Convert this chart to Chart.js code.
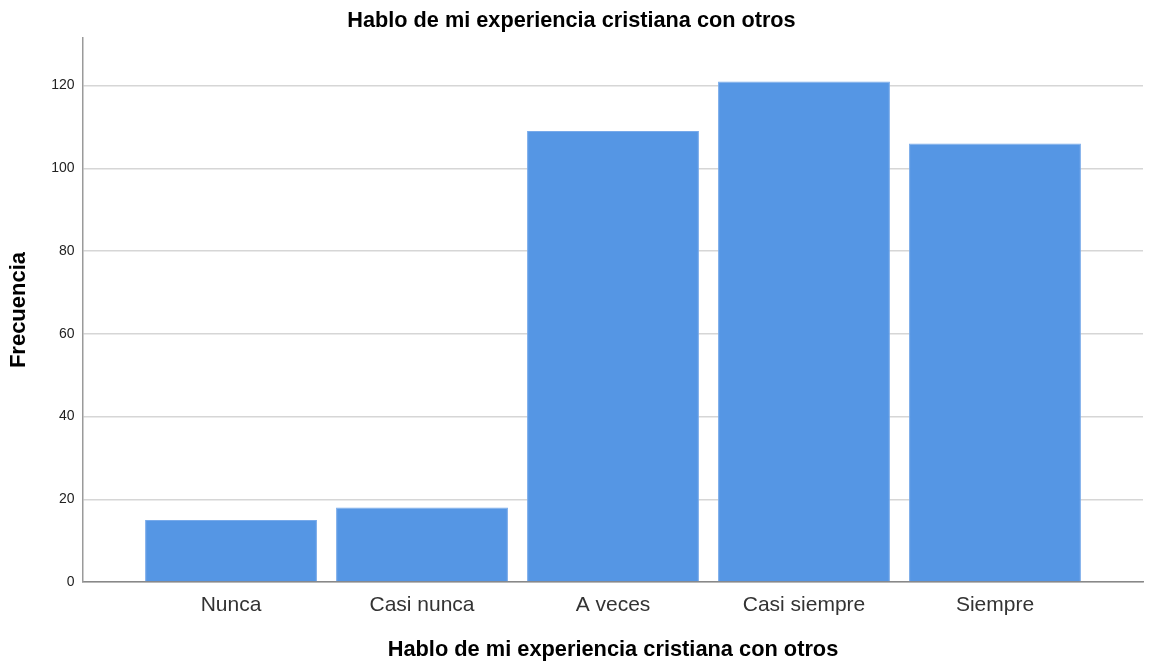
<!DOCTYPE html>
<html>
<head>
<meta charset="utf-8">
<script src="https://cdn.jsdelivr.net/npm/chart.js@4/dist/chart.umd.min.js"></script>
<style>
  html, body { margin: 0; padding: 0; background: #ffffff; }
  #wrap { width: 1149px; height: 663px; position: relative; }
</style>
</head>
<body>
<div id="wrap"><canvas id="c" width="1149" height="663"></canvas></div>
<script>
const chartTitle = "Hablo de mi experiencia cristiana con otros";
const xTitle = "Hablo de mi experiencia cristiana con otros";
const yTitle = "Frecuencia";
const categories = ["Nunca", "Casi nunca", "A veces", "Casi siempre", "Siempre"];
const frecuencias = [15, 18, 109, 121, 106];
const yTickValues = [0, 20, 40, 60, 80, 100, 120];

const FONT = "'Liberation Sans', Arial, sans-serif";

new Chart(document.getElementById('c'), {
  type: 'bar',
  data: {
    datasets: [{
      label: yTitle,
      data: frecuencias.map((v, i) => ({ x: i, y: v })),
      backgroundColor: '#5596e4',
      borderColor: '#78aaea',
      borderWidth: 1,
      barPercentage: 0.9,
      categoryPercentage: 1.0
    }]
  },
  options: {
    responsive: false,
    animation: false,
    layout: { padding: { left: 0, right: 6, top: 0, bottom: 0 } },
    plugins: {
      legend: { display: false },
      tooltip: { enabled: false },
      title: {
        display: true,
        text: chartTitle,
        color: '#000000',
        font: { family: FONT, size: 21.7, weight: 'bold' },
        padding: { top: 8.4, bottom: 3.6 }
      }
    },
    scales: {
      x: {
        type: 'linear',
        offset: false,
        min: -0.775,
        max: 4.775,
        grid: { display: false, drawTicks: false },
        border: { display: true, color: '#888888', width: 1.5 },
        afterBuildTicks: (axis) => { axis.ticks = categories.map((_, i) => ({ value: i })); },
        afterFit: (axis) => { axis.height = 81; },
        ticks: {
          autoSkip: false,
          maxRotation: 0,
          padding: 10.5,
          color: '#333333',
          font: { family: FONT, size: 21 },
          callback: (v) => categories[v]
        },
        title: {
          display: true,
          text: xTitle,
          color: '#000000',
          font: { family: FONT, size: 21.8, weight: 'bold' },
          padding: { top: 10, bottom: 0 }
        }
      },
      y: {
        min: 0,
        max: 131.5,
        afterBuildTicks: (axis) => { axis.ticks = yTickValues.map(v => ({ value: v })); },
        afterFit: (axis) => { axis.width = 83; },
        grid: { color: '#d6d6d6', lineWidth: 1.5, drawTicks: false },
        border: { display: true, color: '#9a9a9a', width: 1.5 },
        ticks: {
          padding: 8.5,
          color: '#222222',
          font: { family: FONT, size: 14 }
        },
        title: {
          display: true,
          text: yTitle,
          color: '#000000',
          font: { family: FONT, size: 22, weight: 'bold' },
          padding: { top: 5.3, bottom: 0 }
        }
      }
    }
  }
});
</script>
</body>
</html>
